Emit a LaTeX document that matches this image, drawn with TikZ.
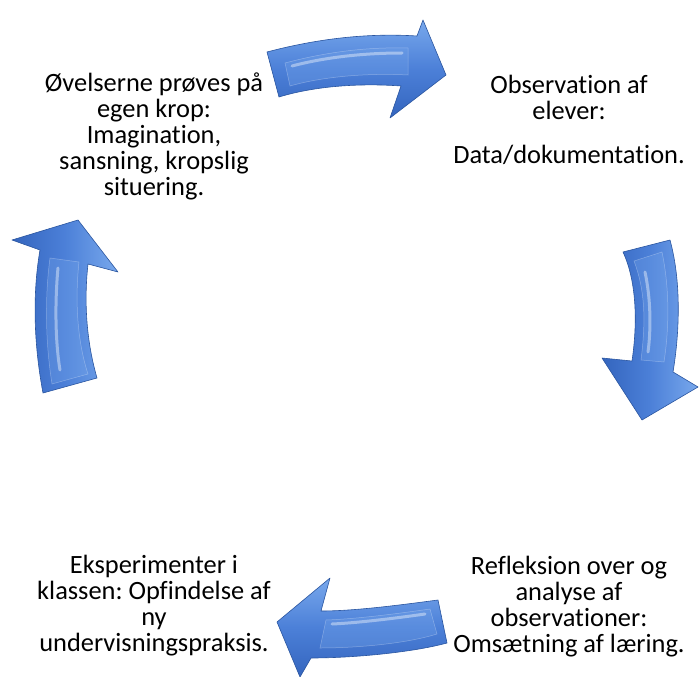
\documentclass[tikz,border=0pt]{standalone}
\usepackage{fontspec}
\setmainfont{Carlito}[RawFeature={-liga;-clig;-dlig;-calt}]
\frenchspacing
\definecolor{alight}{HTML}{78A8EC}
\definecolor{amid}{HTML}{4C80D8}
\definecolor{adark}{HTML}{3465BE}
\definecolor{aedge}{HTML}{2A559F}
\tikzset{
  arrowbody/.style={draw=aedge, line width=0.6pt, line join=round},
  innerface/.style={fill=alight, fill opacity=0.3, draw=white, draw opacity=0.3, line width=0.5pt},
  gloss/.style={draw=white, line width=3pt, opacity=0.4, line cap=round},
  label/.style={align=center, font=\fontsize{26.4}{26}\selectfont, inner sep=0pt}
}
\begin{document}
\begin{tikzpicture}[x=1pt,y=-1pt]
\useasboundingbox (0,0) rectangle (699,677);

% top arrow (pointing right)
\path[arrowbody, top color=alight, bottom color=adark, middle color=amid]
  (267,52) .. controls (320,38) and (370,33) .. (417,36) -- (423,20) -- (446,75) -- (390,118) -- (401,86)
  .. controls (360,83) and (315,86) .. (279,97) -- cycle;
\path[innerface] (285,63) .. controls (330,51) and (370,47) .. (408,48) -- (408,75)
  .. controls (370,73) and (325,76) .. (290,86) -- cycle;
\draw[gloss] (292,66) .. controls (330,56) and (370,53) .. (402,53);

% right arrow (pointing down)
\path[arrowbody, left color=adark, right color=alight, middle color=amid]
  (623,252) -- (670,240) .. controls (681,280) and (680,330) .. (673,372) -- (698,387) -- (642,420) -- (602,358) -- (632,361)
  .. controls (638,320) and (636,280) .. (623,252) -- cycle;
\path[innerface] (634,261) -- (662,252) .. controls (670,290) and (669,330) .. (664,362) -- (641,360)
  .. controls (646,320) and (645,290) .. (634,261) -- cycle;
\draw[gloss] (645,272) .. controls (651,300) and (651,330) .. (648,352);

% bottom arrow (pointing left)
\path[arrowbody, top color=alight, bottom color=adark, middle color=amid]
  (438,600) .. controls (400,605) and (355,611) .. (321,611) -- (330,578) -- (277,622) -- (300,677) -- (311,658)
  .. controls (350,658) and (410,653) .. (447,643) -- cycle;
\path[innerface] (430,609) .. controls (395,614) and (355,619) .. (326,620) -- (320,648)
  .. controls (355,648) and (405,644) .. (437,634) -- cycle;
\draw[gloss] (425,614) .. controls (390,619) and (355,623) .. (332,624);

% left arrow (pointing up)
\path[arrowbody, left color=adark, right color=alight, middle color=amid]
  (43,393) .. controls (33,340) and (33,290) .. (40,250) -- (12,240) -- (78,220) -- (118,272) -- (88,264)
  .. controls (84,300) and (86,340) .. (97,378) -- cycle;
\path[innerface] (52,384) .. controls (45,340) and (45,295) .. (50,258) -- (79,262)
  .. controls (75,300) and (77,340) .. (88,374) -- cycle;
\draw[gloss] (58,268) .. controls (55,300) and (55,340) .. (60,370);

% texts
\node[label] (tl) at (154,136) {Øvelserne prøves på\\egen krop:\\Imagination,\\sansning, kropslig\\situering.};
\node[label] (tr) at (569,120) {Observation af\\elever:\\[18pt]Data/dokumentation.};
\node[label] (br) at (569,607) {Refleksion over og\\analyse af\\observationer:\\Omsætning af læring.};
\node[label] (bl) at (154,606) {Eksperimenter i\\klassen: Opfindelse af\\ny\\undervisningspraksis.};
\end{tikzpicture}
\end{document}
